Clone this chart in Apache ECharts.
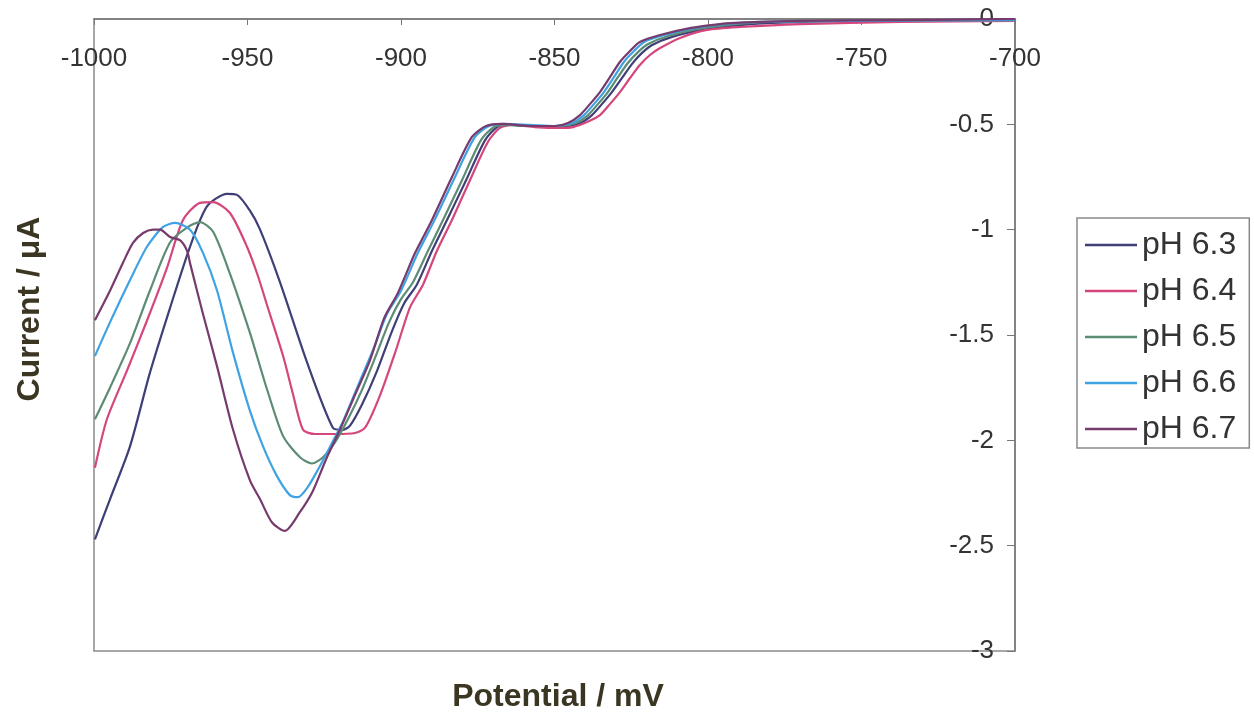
<!DOCTYPE html>
<html>
<head>
<meta charset="utf-8">
<script src="https://cdn.jsdelivr.net/npm/echarts@6/dist/echarts.min.js"></script>
<style>
  html, body { margin: 0; padding: 0; background: #ffffff; }
  #chart { width: 1254px; height: 718px; }
</style>
</head>
<body>
<div id="chart"></div>
<script>
// Voltammograms at several pH values: [potential (mV), current (µA)]
const seriesNames = ['pH 6.3', 'pH 6.4', 'pH 6.5', 'pH 6.6', 'pH 6.7'];
const seriesColors = ['#3f3f78', '#d4467c', '#5d8c74', '#3fa2e2', '#763a6c'];

const ph63 = [
  [-999.7,-2.47],[-994.8,-2.28],[-988.3,-2.03],[-981.8,-1.68],[-975.2,-1.37],[-968.7,-1.08],
  [-963.2,-0.89],[-956.7,-0.83],[-953.4,-0.835],[-949.2,-0.91],[-945.9,-1.00],[-939.4,-1.25],
  [-930.6,-1.63],[-922.2,-1.94],[-918.9,-1.95],[-916.6,-1.93],[-912.7,-1.83],[-907.8,-1.67],
  [-902.9,-1.48],[-899.0,-1.35],[-894.8,-1.26],[-889.9,-1.10],[-884.7,-0.945],[-878.8,-0.765],
  [-872.6,-0.575],[-868.7,-0.513],[-864.5,-0.503],[-858.0,-0.508],[-848.2,-0.513],[-841.7,-0.494],
  [-837.8,-0.456],[-834.5,-0.403],[-831.3,-0.347],[-828.0,-0.280],[-824.8,-0.214],[-821.5,-0.161],
  [-818.2,-0.123],[-811.7,-0.085],[-802.0,-0.052],[-792.2,-0.033],[-779.2,-0.019],[-753.8,-0.009],
  [-700,-0.005]
];

const ph64 = [
  [-999.7,-2.13],[-995.8,-1.90],[-989.3,-1.67],[-982.7,-1.43],[-976.2,-1.18],[-971.0,-0.954],
  [-965.5,-0.873],[-961.2,-0.869],[-955.7,-0.921],[-950.2,-1.08],[-946.6,-1.22],[-943.6,-1.36],
  [-938.4,-1.60],[-935.2,-1.78],[-931.9,-1.95],[-928.0,-1.97],[-921.5,-1.97],[-915.0,-1.965],
  [-911.7,-1.94],[-906.8,-1.785],[-901.6,-1.57],[-897.1,-1.37],[-892.8,-1.26],[-888.3,-1.10],
  [-883.4,-0.954],[-877.5,-0.764],[-871.7,-0.584],[-867.8,-0.517],[-863.5,-0.503],[-856.4,-0.513],
  [-848.2,-0.517],[-844.0,-0.513],[-839.4,-0.489],[-835.2,-0.456],[-831.9,-0.403],[-828.7,-0.347],
  [-825.4,-0.280],[-822.2,-0.218],[-818.9,-0.171],[-815.6,-0.138],[-809.1,-0.090],[-800.3,-0.052],
  [-789.6,-0.038],[-770.0,-0.024],[-737.5,-0.014],[-700,-0.009]
];

const ph65 = [
  [-999.7,-1.90],[-994.8,-1.75],[-988.3,-1.54],[-981.8,-1.29],[-975.2,-1.06],[-969.7,-0.99],
  [-965.5,-0.964],[-961.2,-1.01],[-955.7,-1.21],[-949.2,-1.49],[-945.9,-1.65],[-943.6,-1.76],
  [-938.4,-1.98],[-932.9,-2.08],[-929.0,-2.11],[-925.4,-2.08],[-921.5,-2.01],[-917.3,-1.90],
  [-913.0,-1.77],[-908.5,-1.61],[-903.9,-1.44],[-900.0,-1.33],[-896.1,-1.25],[-891.2,-1.10],
  [-886.0,-0.945],[-880.1,-0.764],[-873.9,-0.574],[-869.7,-0.513],[-865.1,-0.503],[-858.0,-0.508],
  [-848.2,-0.508],[-843.0,-0.494],[-839.1,-0.456],[-835.8,-0.403],[-832.6,-0.347],[-829.3,-0.275],
  [-826.1,-0.209],[-822.8,-0.157],[-819.5,-0.119],[-813.0,-0.081],[-803.3,-0.047],[-793.5,-0.028],
  [-780.5,-0.014],[-753.8,-0.009],[-700,-0.005]
];

const ph66 = [
  [-999.7,-1.60],[-994.8,-1.44],[-988.3,-1.24],[-982.7,-1.08],[-977.5,-0.987],[-973.6,-0.968],
  [-968.7,-1.00],[-964.5,-1.11],[-959.9,-1.29],[-954.7,-1.585],[-949.2,-1.86],[-944.9,-2.03],
  [-940.4,-2.17],[-936.2,-2.26],[-933.6,-2.27],[-930.3,-2.22],[-926.7,-2.13],[-923.1,-2.03],
  [-918.9,-1.91],[-914.0,-1.74],[-908.8,-1.56],[-904.6,-1.40],[-900.0,-1.29],[-894.5,-1.11],
  [-888.9,-0.95],[-882.4,-0.75],[-875.9,-0.56],[-871.3,-0.508],[-866.5,-0.498],[-858.0,-0.503],
  [-849.8,-0.508],[-844.3,-0.494],[-840.4,-0.456],[-837.1,-0.403],[-833.9,-0.347],[-830.6,-0.275],
  [-827.4,-0.204],[-824.1,-0.152],[-820.8,-0.109],[-814.3,-0.076],[-804.6,-0.043],[-794.8,-0.024],
  [-781.8,-0.014],[-753.8,-0.009],[-700,-0.005]
];

const ph67 = [
  [-999.7,-1.43],[-994.8,-1.29],[-990.6,-1.158],[-987.3,-1.063],[-984.0,-1.016],[-980.8,-1.00],
  [-978.5,-1.00],[-975.2,-1.035],[-972.0,-1.05],[-969.7,-1.10],[-968.7,-1.16],[-964.5,-1.40],
  [-959.9,-1.65],[-954.7,-1.95],[-949.2,-2.19],[-945.9,-2.28],[-942.0,-2.39],[-937.8,-2.43],
  [-932.9,-2.34],[-928.7,-2.24],[-924.4,-2.09],[-919.9,-1.95],[-915.0,-1.785],[-910.1,-1.62],
  [-905.5,-1.42],[-901.0,-1.30],[-895.4,-1.11],[-889.9,-0.954],[-883.4,-0.75],[-876.9,-0.56],
  [-872.3,-0.508],[-867.1,-0.498],[-858.0,-0.508],[-849.8,-0.508],[-845.6,-0.494],[-841.7,-0.456],
  [-838.4,-0.403],[-835.2,-0.347],[-831.9,-0.275],[-828.7,-0.204],[-825.4,-0.152],[-822.2,-0.109],
  [-815.6,-0.076],[-805.9,-0.043],[-796.1,-0.024],[-783.1,-0.014],[-770.0,-0.009],[-737.5,-0.005],
  [-700,0]
];

const seriesData = [ph63, ph64, ph65, ph66, ph67];

// Axis ranges and tick steps
const xMin = -1000, xMax = -700, xStep = 50;
const yMin = -3, yMax = 0, yStep = 0.5;

const xTitle = 'Potential / mV';
const yTitle = 'Current / \u03BCA';

const chart = echarts.init(document.getElementById('chart'), null, { renderer: 'canvas' });

const axisGray = '#8a8a8a';
const labelColor = '#333333';
const titleColor = '#3a3622';
const fontFamily = 'Liberation Sans, Arial, sans-serif';

chart.setOption({
  animation: false,
  backgroundColor: '#ffffff',
  grid: {
    left: 94, top: 19, right: 239, bottom: 67,
    show: true, borderColor: axisGray, borderWidth: 1.5, backgroundColor: 'transparent'
  },
  xAxis: {
    type: 'value', position: 'top',
    min: xMin, max: xMax, interval: xStep,
    axisLine: { show: true, onZero: false, lineStyle: { color: '#777', width: 1.5 } },
    axisTick: { show: true, inside: true, length: 6, lineStyle: { color: '#777', width: 1 } },
    axisLabel: {
      inside: true, margin: 27, color: labelColor, fontSize: 26, fontFamily: fontFamily,
      showMinLabel: true, showMaxLabel: true,
      formatter: (v) => String(v)
    },
    splitLine: { show: false }
  },
  yAxis: {
    type: 'value', position: 'right',
    min: yMin, max: yMax, interval: yStep,
    axisLine: { show: true, onZero: false, lineStyle: { color: '#777', width: 1.5 } },
    axisTick: { show: true, inside: true, length: 8, lineStyle: { color: '#777', width: 1 } },
    axisLabel: {
      inside: true, margin: 21, color: labelColor, fontSize: 26, fontFamily: fontFamily,
      showMinLabel: true, showMaxLabel: true,
      formatter: (v) => String(v)
    },
    splitLine: { show: false }
  },
  legend: {
    orient: 'vertical',
    left: 1077, top: 218,
    padding: [10, 13, 2, 8],
    itemWidth: 52, itemHeight: 2.5, itemGap: 12,
    icon: 'rect',
    borderColor: axisGray, borderWidth: 1.5,
    data: seriesNames,
    textStyle: { color: labelColor, fontSize: 32, lineHeight: 34, fontFamily: fontFamily }
  },
  graphic: [
    {
      type: 'text',
      x: 558, y: 697,
      style: {
        text: xTitle, fill: titleColor, fontSize: 32, fontWeight: 'bold',
        fontFamily: fontFamily, align: 'center', verticalAlign: 'middle'
      }
    },
    {
      type: 'text',
      x: 30, y: 309, rotation: Math.PI / 2,
      style: {
        text: yTitle, fill: titleColor, fontSize: 32, fontWeight: 'bold',
        fontFamily: fontFamily, align: 'center', verticalAlign: 'middle'
      }
    }
  ],
  series: seriesData.map((d, i) => ({
    name: seriesNames[i],
    type: 'line',
    data: d,
    showSymbol: false,
    symbol: 'none',
    smooth: 0.25,
    color: seriesColors[i],
    lineStyle: { width: 2.2, color: seriesColors[i] },
    z: 2
  }))
});
</script>
</body>
</html>
